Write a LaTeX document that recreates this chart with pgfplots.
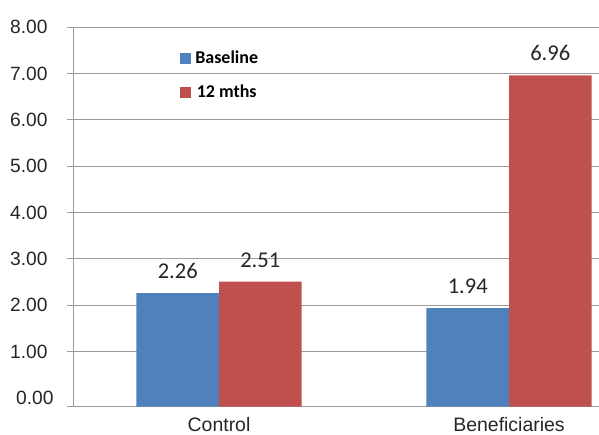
\documentclass[border=0pt]{standalone}
\usepackage{fontspec}
\setmainfont{Liberation Sans}
\newfontfamily\calibri{Carlito}
\usepackage{pgfplots}
\pgfplotsset{compat=1.18}
\definecolor{barblue}{HTML}{4F81BD}
\definecolor{barred}{HTML}{C0504D}
\definecolor{gridgray}{RGB}{155,155,155}

\begin{document}
\begin{tikzpicture}
\useasboundingbox (-55pt,-21.2pt) rectangle (394.3pt,305pt);
\begin{axis}[
    scale only axis,
    width=394.3pt, height=284.6pt,
    axis lines=left,
    axis line style={-, gridgray, line width=0.75pt},
    xmin=-0.5024, xmax=1.3103,
    ymin=0, ymax=8,
    % the source chart stretches the 0-1 band a little
    y coord trafo/.code={\pgfmathparse{(#1<1) ? 1.188*#1 : #1+0.188}},
    ybar=0pt, bar width=61.9pt,
    xtick={0,1},
    xticklabels={Control, Beneficiaries},
    x tick style={draw=none},
    xticklabel style={font=\fontsize{14.6}{17}\selectfont, text=black!85, inner sep=0pt, anchor=north, yshift=-3.3pt},
    ytick={0,1,2,3,4,5,6,7,8},
    yticklabels={,1.00,2.00,3.00,4.00,5.00,6.00,7.00,8.00},
    extra y ticks={0.158},
    extra y tick labels={0.00},
    extra y tick style={major tick length=0pt, grid=none},
    tick align=outside,
    major tick length=4.5pt,
    y tick style={gridgray, line width=0.75pt},
    yticklabel style={font=\fontsize{14.4}{17}\selectfont, text=black!85, inner sep=0pt, anchor=east, xshift=-14.6pt},
    ymajorgrids,
    grid style={gridgray, line width=0.75pt},
    point meta=rawy,
    nodes near coords={\pgfmathprintnumber[fixed,fixed zerofill,precision=2,assume math mode=true]{\pgfplotspointmeta}},
    every node near coord/.append style={font=\calibri\fontsize{16.9}{20}\selectfont, text=black!85, inner sep=0pt, anchor=south, yshift=10.5pt},
    legend style={draw=none, fill=none, inner sep=0pt, at={(0.203,0.9375)}, anchor=north west,
                  font=\calibri\bfseries\fontsize{13.5}{16}\selectfont, row sep=14.6pt, column sep=3pt,
                  nodes={inner sep=0pt}},
    legend image code/.code={\fill[#1,draw=none] (0pt,-4.1pt) rectangle (8.25pt,4.1pt);},
]
\addplot[fill=barblue, draw=none] coordinates {(0,2.26) (1,1.94)};
\addplot[fill=barred, draw=none] coordinates {(0,2.51) (1,6.96)};
\legend{Baseline, 12 mths}
\end{axis}
\end{tikzpicture}
\end{document}
